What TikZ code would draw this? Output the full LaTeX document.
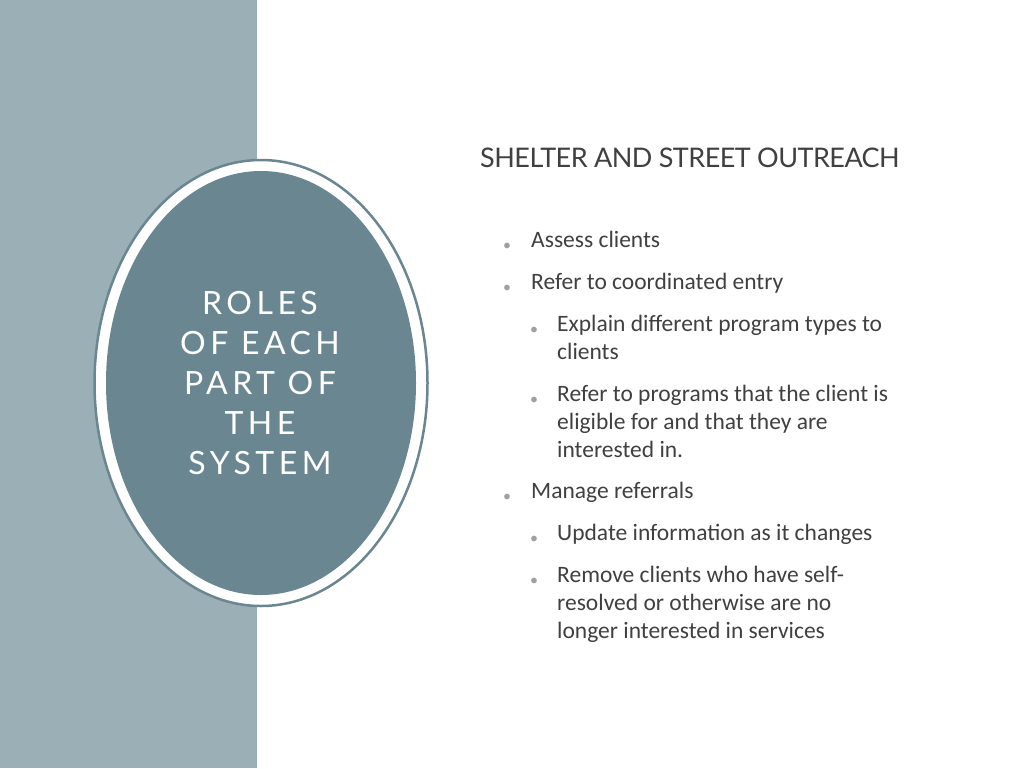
\documentclass[tikz,border=0pt]{standalone}
\usetikzlibrary{shapes.geometric}
\usepackage{fontspec}
\setmainfont{Carlito}
\newfontfamily\gill[LetterSpace=14]{Lato}
\newfontfamily\gilltitle[LetterSpace=-2]{Lato}
\definecolor{band}{HTML}{9BB0B6}
\definecolor{oval}{HTML}{6A8691}
\definecolor{txt}{HTML}{404040}
\definecolor{bul}{HTML}{A0A0A0}
\begin{document}
\begin{tikzpicture}[x=1pt,y=-1pt,
  item/.style={anchor=north west,font=\fontsize{23.5}{28}\selectfont,text=txt,inner sep=0pt,align=left},
  dot/.style={anchor=base west,font=\fontsize{16}{20}\selectfont,text=bul,inner sep=0pt}]
\useasboundingbox (0,0) rectangle (1024,768);
\fill[white] (0,0) rectangle (1024,768);
\fill[band] (0,0) rectangle (257,768);
\node[draw=oval,line width=2.5pt,fill=white,ellipse,minimum width=333,minimum height=446,inner sep=0] (outer) at (261,383) {};
\fill[oval] (261,383) ellipse [x radius=155, y radius=212];
\node[text=white,align=center,font=\gill\fontsize{32}{40}\selectfont] (t) at (260,383) {ROLES\\OF EACH\\PART OF\\THE\\SYSTEM};
\node[anchor=base west,inner sep=0,text=txt,font=\gilltitle\fontsize{27}{30}\selectfont] (h) at (480,167) {SHELTER AND STREET OUTREACH};
\node[dot] (b1) at (503,250) {•}; \node[item] (i1) at (531,231) {Assess clients};
\node[dot] (b2) at (503,292) {•}; \node[item] (i2) at (531,273) {Refer to coordinated entry};
\node[dot] (b3) at (530,334) {•}; \node[item] (i3) at (557,315) {Explain different program types to\\clients};
\node[dot] (b4) at (530,404) {•}; \node[item] (i4) at (557,385) {Refer to programs that the client is\\eligible for and that they are\\interested in.};
\node[dot] (b5) at (503,501) {•}; \node[item] (i5) at (531,482) {Manage referrals};
\node[dot] (b6) at (530,543) {•}; \node[item] (i6) at (557,524) {Update information as it changes};
\node[dot] (b7) at (530,585) {•}; \node[item] (i7) at (557,566) {Remove clients who have self-\\resolved or otherwise are no\\longer interested in services};
\end{tikzpicture}
\end{document}
